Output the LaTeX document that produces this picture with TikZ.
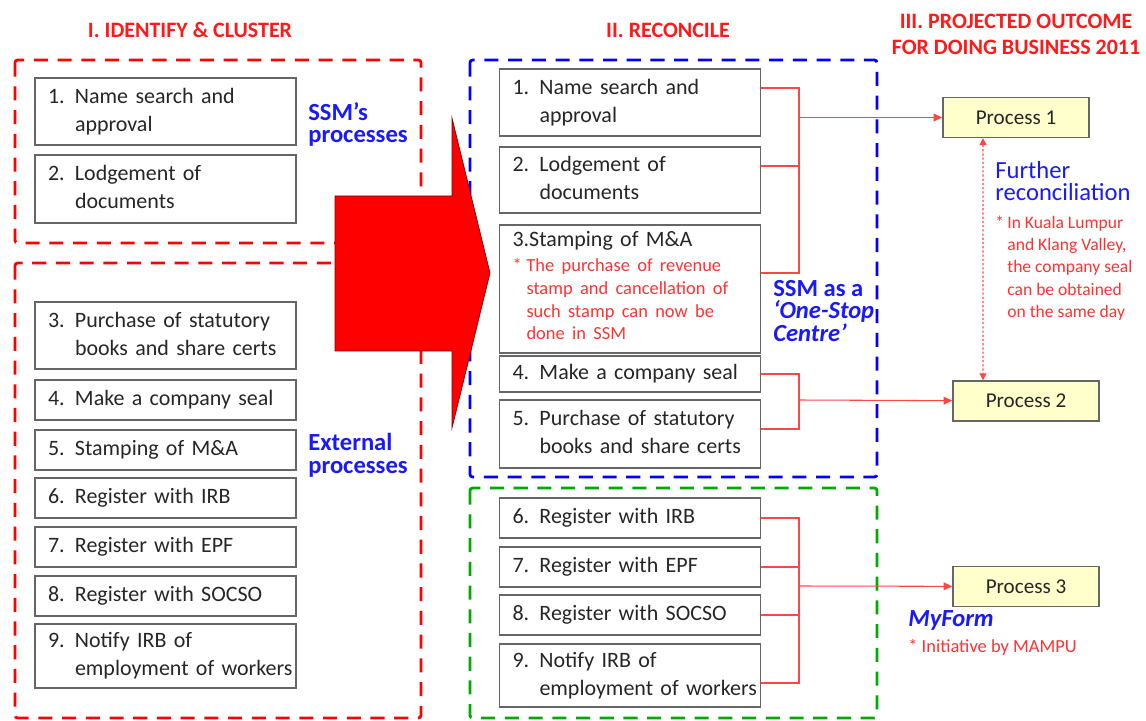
\documentclass[tikz,border=0pt]{standalone}
\usepackage{fontspec}
\setmainfont{Carlito}
\usepackage{tikz}
\usetikzlibrary{arrows.meta}

\definecolor{clusterred}{RGB}{255,0,0}
\definecolor{clusterblue}{RGB}{0,0,255}
\definecolor{clustergreen}{RGB}{0,170,0}
\definecolor{headred}{RGB}{255,25,25}
\definecolor{labelblue}{RGB}{25,25,255}
\definecolor{notered}{RGB}{255,50,50}
\definecolor{linkred}{RGB}{255,70,70}
\definecolor{outfill}{RGB}{255,255,204}

\newcommand{\hanglist}[3]{\makebox[#1][l]{#2}\begin{tabular}[t]{@{}l@{}}#3\end{tabular}}

\begin{document}
\begin{tikzpicture}[
    stepbox/.style={draw=black!60, line width=0.8pt, text=black!85, font=\fontsize{12.5}{16}\selectfont, text width=4.70cm, align=left, inner xsep=0.26cm, inner ysep=0pt},
    outbox/.style={draw=black!60, line width=0.8pt, fill=outfill, text=black!85, font=\fontsize{12}{14}\selectfont, minimum width=2.92cm, minimum height=0.80cm, inner sep=0pt},
    cluster/.style={line width=1.6pt, dash pattern=on 8pt off 5.5pt, rounded corners=1.5pt},
    headline/.style={text=headred, font=\fontsize{12.5}{14.7}\selectfont\bfseries, align=center},
    groupname/.style={text=labelblue, font=\fontsize{14}{13}\selectfont\bfseries, align=left, anchor=west, inner sep=0pt},
    note/.style={text=notered, font=\fontsize{10}{12.7}\selectfont, anchor=west, inner sep=0pt},
    link/.style={draw=linkred, line width=0.6pt},
    tolink/.style={link, -{Triangle[length=5pt,width=4.5pt]}}
]
    \useasboundingbox (0,0) rectangle (22.92,14.40);

    % Titles
    \node[headline] (t1) at (3.80,13.80) {I. IDENTIFY \& CLUSTER};
    \node[headline] (t2) at (13.36,13.80) {II. RECONCILE};
    \node[headline] (t3) at (20.32,13.71) {III. PROJECTED OUTCOME\\FOR DOING BUSINESS 2011};

    % Clusters
    \draw[cluster, clusterred] (0.30,13.20) rectangle (8.42,9.54);
    \draw[cluster, clusterred] (0.30,9.14) rectangle (8.42,0.04);
    \draw[cluster, clusterblue] (9.40,13.20) rectangle (17.54,4.86);
    \draw[cluster, clustergreen] (9.40,4.64) rectangle (17.54,0.04);

    % Identified processes
    \node[stepbox, minimum height=1.34cm] (l1) at (3.31,12.17) {\hanglist{0.54cm}{1.}{Name search and\\approval}};
    \node[stepbox, minimum height=1.36cm] (l2) at (3.31,10.62) {\hanglist{0.54cm}{2.}{Lodgement of\\documents}};
    \node[stepbox, minimum height=1.34cm] (l3) at (3.31,7.69) {\hanglist{0.54cm}{3.}{Purchase of statutory\\books and share certs}};
    \node[stepbox, minimum height=0.80cm] (l4) at (3.31,6.40) {\hanglist{0.54cm}{4.}{Make a company seal}};
    \node[stepbox, minimum height=0.80cm] (l5) at (3.31,5.40) {\hanglist{0.54cm}{5.}{Stamping of M\&A}};
    \node[stepbox, minimum height=0.80cm] (l6) at (3.31,4.44) {\hanglist{0.54cm}{6.}{Register with IRB}};
    \node[stepbox, minimum height=0.80cm] (l7) at (3.31,3.46) {\hanglist{0.54cm}{7.}{Register with EPF}};
    \node[stepbox, minimum height=0.80cm] (l8) at (3.31,2.48) {\hanglist{0.54cm}{8.}{Register with SOCSO}};
    \node[stepbox, minimum height=1.28cm] (l9) at (3.31,1.28) {\hanglist{0.54cm}{9.}{Notify IRB of\\employment of workers}};

    \node[groupname] (ssm) at (6.16,11.91) {SSM's\\processes};
    \node[groupname] (ext) at (6.16,5.29) {External\\processes};

    % Reconciled processes
    \node[stepbox, minimum height=1.34cm] (m1) at (12.60,12.35) {\hanglist{0.54cm}{1.}{Name search and\\approval}};
    \node[stepbox, minimum height=1.32cm] (m2) at (12.60,10.80) {\hanglist{0.54cm}{2.}{Lodgement of\\documents}};
    \node[stepbox, minimum height=2.56cm] (m3) at (12.60,8.62) {3.Stamping of M\&A\\[-1.8pt]{\color{notered}\fontsize{10.5}{13}\selectfont\hanglist{0.28cm}{*}{The purchase of revenue\\stamp and cancellation of\\such stamp can now be\\done in SSM}}};
    \node[stepbox, minimum height=0.72cm] (m4) at (12.60,6.92) {\hanglist{0.54cm}{4.}{Make a company seal}};
    \node[stepbox, minimum height=1.36cm] (m5) at (12.60,5.72) {\hanglist{0.54cm}{5.}{Purchase of statutory\\books and share certs}};
    \node[stepbox, minimum height=0.80cm] (m6) at (12.60,4.04) {\hanglist{0.54cm}{6.}{Register with IRB}};
    \node[stepbox, minimum height=0.80cm] (m7) at (12.60,3.06) {\hanglist{0.54cm}{7.}{Register with EPF}};
    \node[stepbox, minimum height=0.80cm] (m8) at (12.60,2.10) {\hanglist{0.54cm}{8.}{Register with SOCSO}};
    \node[stepbox, minimum height=1.26cm] (m9) at (12.60,0.89) {\hanglist{0.54cm}{9.}{Notify IRB of\\employment of workers}};

    \node[groupname] (onestop) at (15.46,8.18) {SSM as a\\\itshape`One-Stop\\\itshape Centre'};

    % Big arrow
    \filldraw[fill=red, draw=red!50!black, line width=0.4pt] (6.70,10.48) -- (9.04,10.48) -- (9.04,12.04) -- (9.80,8.94) -- (9.04,5.84) -- (9.04,7.38) -- (6.70,7.38) -- cycle;

    % Outcomes
    \node[outbox] (p1) at (20.32,12.05) {Process 1};
    \node[outbox] (p2) at (20.52,6.38) {Process 2};
    \node[outbox] (p3) at (20.52,2.67) {Process 3};

    \node[groupname, font=\fontsize{14}{13}\selectfont] (further) at (19.90,10.78) {Further\\reconciliation};
    \node[note] (sealnote) at (19.90,9.03) {\hanglist{0.24cm}{*}{In Kuala Lumpur\\and Klang Valley,\\the company seal\\can be obtained\\on the same day}};
    \node[groupname, font=\fontsize{14}{13}\selectfont\bfseries\itshape] (myform) at (18.16,2.00) {MyForm};
    \node[note, font=\fontsize{10.5}{12.7}\selectfont] (mampu) at (18.16,1.46) {* Initiative by MAMPU};

    % Links
    \coordinate (bus1) at (15.98,12.05);
    \coordinate (bus2) at (15.98,6.40);
    \coordinate (bus3) at (15.98,2.68);

    \draw[link] ([yshift=0.29cm]m1.east) -| (bus1) |- ([yshift=0.32cm]m3.east);
    \draw[link] ([yshift=0.28cm]m2.east) -| (bus1);
    \draw[tolink] (bus1) -- (p1);

    \draw[link] (m4.east) -| (bus2) |- ([yshift=0.10cm]m5.east);
    \draw[tolink] (bus2) -- (p2);

    \draw[link] (m6.east) -| (bus3) |- ([yshift=-0.15cm]m9.east);
    \draw[link] (m7.east) -| (bus3);
    \draw[link] (m8.east) -| (bus3);
    \draw[tolink] (bus3) -- (p3);

    \draw[link, dash pattern=on 1.2pt off 1.2pt, {Triangle[length=4pt,width=4pt]}-{Triangle[length=4pt,width=4pt]}] ([xshift=-0.66cm]p1.south) -- ([xshift=-0.86cm]p2.north);
\end{tikzpicture}
\end{document}
